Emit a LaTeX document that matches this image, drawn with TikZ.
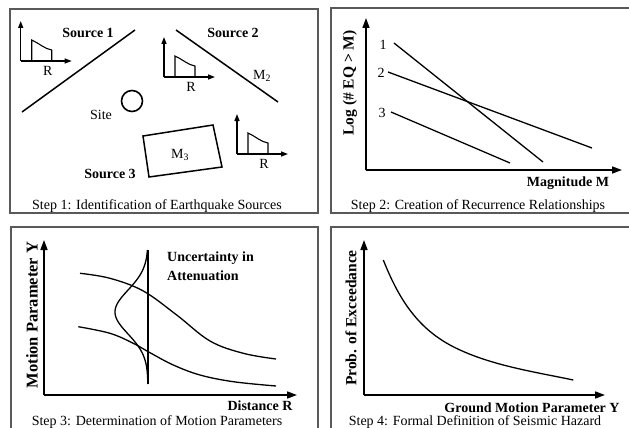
\documentclass[tikz,border=0pt]{standalone}
\usepackage{fontspec}
\setmainfont{Liberation Serif}
\usetikzlibrary{arrows.meta}
\begin{document}
\begin{tikzpicture}[x=1pt,y=-1pt,
  panel/.style={draw=black!65, line width=1.4pt},
  axis/.style={line width=1.6pt, -{Triangle[length=10pt,width=7pt]}},
  saxis/.style={line width=1.3pt, -{Triangle[length=7pt,width=5pt]}},
  curve/.style={line width=1.3pt},
  lab/.style={font=\fontsize{14}{16}\selectfont, inner sep=0pt},
  blab/.style={font=\fontsize{14}{16}\selectfont\bfseries, inner sep=0pt},
  ylab/.style={font=\fontsize{15.5}{17}\selectfont\bfseries, inner sep=0pt, rotate=90},
  minihist/.pic={
    \draw[saxis] (0,0) -- (0,-40);
    \draw[saxis] (0,0) -- (51,0);
    \draw[curve, line width=1.1pt] (11,0) -- (11,-21) .. controls (18,-18) and (24,-12) .. (31,-11) -- (31,0);
    \node[lab] at (27,10) {R};
  }]
\useasboundingbox (0,0) rectangle (629,428);
% panels
\draw[panel] (10,9) rectangle (318,213);
\draw[panel] (640,8) -- (331,8) -- (331,213) -- (640,213);
\draw[panel] (11,440) -- (11,227) -- (318,227) -- (318,440);
\draw[panel] (331,440) -- (331,227) -- (640,227);

% ---------- Step 1
\pic at (20.7,61) {minihist};
\pic at (164,77) {minihist};
\pic at (237,154) {minihist};
\node[blab] (s1) at (88,33) {Source 1};
\node[blab] (s2) at (233,33) {Source 2};
\node[blab] (s3) at (110,174) {Source 3};
\draw[curve, line width=1.5pt] (22,112) -- (135,30);
\draw[curve, line width=1.5pt] (176,30) -- (278,102);
\node[lab] (m2) at (262,76) {M\textsubscript{2}};
\draw[curve, line width=1.6pt] (132,101) circle (10.5);
\node[lab] (site) at (101,115) {Site};
\draw[curve, line width=1.5pt] (143,136) -- (213,125) -- (222,167) -- (149,177) -- cycle;
\node[lab] (m3) at (180,155) {M\textsubscript{3}};
\node[lab, anchor=base] (c1) at (157,209.5) {Step 1: Identification of Earthquake Sources};

% ---------- Step 2
\draw[axis] (366,170) -- (366,18);
\draw[axis] (366,170) -- (622,170);
\node[ylab] (y2) at (350,83) {Log (\# EQ > M)};
\draw[curve] (394,43) -- (543,162);
\draw[curve] (388,72) -- (592,148);
\draw[curve] (391,112) -- (510,163);
\node[lab] (n1) at (383,45) {1};
\node[lab] (n2) at (381,73) {2};
\node[lab] (n3) at (382,113) {3};
\node[blab] (x2) at (568,183) {Magnitude M};
\node[lab, anchor=base] (c2) at (478,209.5) {Step 2: Creation of Recurrence Relationships};

% ---------- Step 3
\draw[axis] (44,395) -- (44,240);
\draw[axis] (44,395) -- (297,395);
\node[ylab, font=\fontsize{16.5}{18}\selectfont\bfseries] (y3) at (32,315) {Motion Parameter Y};
\draw[curve] plot[smooth, tension=0.6] coordinates {(80,273.3) (110,278.3) (143.3,291) (176.7,315) (210,341) (243.3,353.3) (276,359)};
\draw[curve] plot[smooth, tension=0.6] coordinates {(78.3,326.7) (110,333.3) (133.3,343.3) (150,352.7) (173.3,365) (200,375) (233.3,381.7) (276,386)};
\draw[curve] (148,250) -- (148,384);
\draw[curve] plot[domain=250:384, samples=80, variable=\t] ({148-33*exp(-((\t-312)/31)^2)}, \t);
\node[blab, anchor=west] (u1) at (167,258) {Uncertainty in};
\node[blab, anchor=west] (u2) at (167,276) {Attenuation};
\node[blab] (x3) at (260,406) {Distance R};
\node[lab, anchor=base] (c3) at (157,425.5) {Step 3: Determination of Motion Parameters};

% ---------- Step 4
\draw[axis] (364,395) -- (364,240);
\draw[axis] (364,395) -- (605,395);
\node[ylab] (y4) at (351,318) {Prob. of Exceedance};
\draw[curve] (383.3,260) .. controls (400,302) and (420,332) .. (460,350) .. controls (495,366) and (535,372) .. (573.3,380);
\node[blab] (x4) at (532,408) {Ground Motion Parameter Y};
\node[lab, anchor=base] (c4) at (475,425.5) {Step 4: Formal Definition of Seismic Hazard};
\end{tikzpicture}
\end{document}
